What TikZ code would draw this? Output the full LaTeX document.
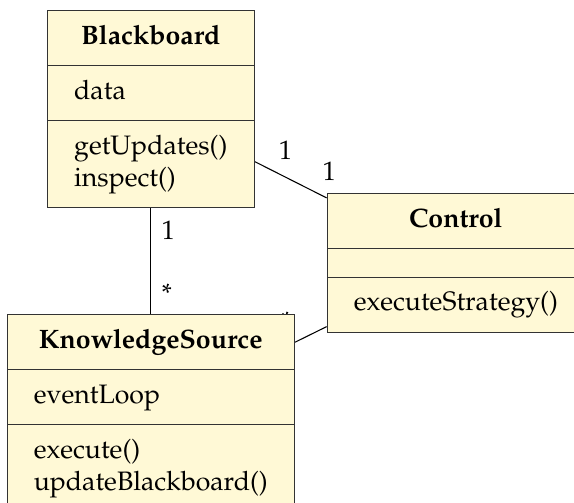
\documentclass[tikz,border=0pt]{standalone}
\usepackage[T1]{fontenc}
\usepackage{mathpazo}
\usetikzlibrary{shapes, positioning}
\definecolor{classfill}{RGB}{255,249,214}
\pgfdeclarelayer{background}
\pgfsetlayers{background,main}
\tikzstyle{umlclass} = [rectangle split, rectangle split parts=3, draw=black!80, fill=classfill, inner xsep=10pt, inner ysep=4.125pt, rectangle split part align={center,left,left}, align=left]
\tikzstyle{line} = [draw, black]

\begin{document}
\begin{tikzpicture}
	\useasboundingbox (-17.625pt,3.75pt) rectangle (197.625pt,-184.875pt);

	\node[umlclass, anchor=north west] (blackboard) at (0,0) {\strut\textbf{Blackboard}\nodepart{two}\strut data\nodepart{three}\strut getUpdates()\\\strut inspect()};
	\node[umlclass, below=39.75pt of blackboard] (knowledgesource) {\strut\textbf{KnowledgeSource}\nodepart{two}\strut eventLoop\nodepart{three}\strut execute()\\\strut updateBlackboard()};
	\node[umlclass, right=27pt of blackboard.south east, anchor=north west, yshift=5.6pt] (control) {\strut\textbf{Control}\nodepart{two}\rule{0pt}{1.9pt}\nodepart{three}\strut executeStrategy()};

	\begin{pgfonlayer}{background}
	\path [line] (blackboard) -- node[pos=0.43, above=3pt] {1} node[pos=1, above=3pt, xshift=1pt] {1} (control);
	\path [line] (blackboard) -- node[pos=0.21, right=0.5pt] {1} node[pos=0.8, right=0.5pt] {*} (knowledgesource);
	\path [line] (knowledgesource) -- node[pos=0, xshift=-3.4pt, yshift=7.9pt] {*} (control);
	\end{pgfonlayer}
\end{tikzpicture}
\end{document}
